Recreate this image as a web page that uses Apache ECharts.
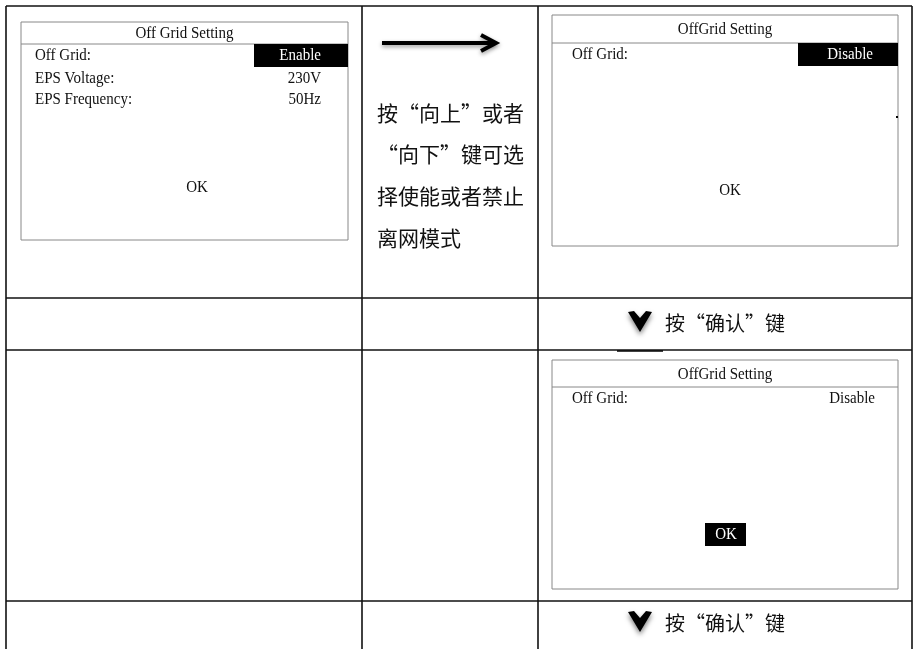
<!DOCTYPE html>
<html><head><meta charset="utf-8">
<script src="https://cdn.jsdelivr.net/npm/echarts@6/dist/echarts.min.js"></script>
<style>html,body{margin:0;padding:0;background:#fff}#c{width:914px;height:649px}</style>
</head><body><div id="c"></div>
<script>
// ---- content ----
const screen1Title = 'Off Grid Setting';
const screen1Labels = ['Off Grid:', 'EPS Voltage:', 'EPS Frequency:'];
const screen1Values = ['Enable', '230V', '50Hz'];
const screen2Title = 'OffGrid Setting';
const screen2Labels = ['Off Grid:'];
const screen2Values = ['Disable'];
const screen3Title = 'OffGrid Setting';
const screen3Labels = ['Off Grid:'];
const screen3Values = ['Disable'];
const okLabel = 'OK';
const instructionLines = ['按“向上”或者', '“向下”键可选', '择使能或者禁止', '离网模式'];
const confirmText = '按“确认”键';

// ---- layout ----
const colX = [6, 362, 538, 912];
const rowY = [6, 298, 350, 601];
const H = 649;
const SERIF = '"Liberation Serif", serif';
const CJK = '"Noto Sans CJK SC", sans-serif';
const instrY = [113, 154, 196, 238];

const g = [];
function line(x1, y1, x2, y2, c, w) {
  g.push({type: 'line', shape: {x1, y1, x2, y2}, style: {stroke: c, lineWidth: w}});
}
function rect(x, y, w, h, fill, stroke) {
  g.push({type: 'rect', shape: {x, y, width: w, height: h}, style: {fill: fill || 'none', stroke: stroke || null, lineWidth: 1}});
}
function text(x, y, t, opt, sy) {
  g.push({type: 'text', x, y, scaleY: sy || 1, style: Object.assign({text: t, fill: '#111', font: '15px ' + SERIF, textVerticalAlign: 'middle', textAlign: 'left'}, opt || {})});
}

// table grid
colX.forEach(x => line(x, rowY[0], x, H, '#111', 1.6));
rowY.forEach(y => line(colX[0], y, colX[3], y, '#111', 1.6));

// screen drawing
function screen(box, title, labels, values, opts) {
  const [x0, y0, x1, y1, div] = box;
  rect(x0, y0, x1 - x0, y1 - y0, '#fff', '#888');
  line(x0, div, x1, div, '#888', 1);
  text((x0 + x1) / 2, (y0 + div) / 2 + 1, title, {textAlign: 'center'}, 1.1);
  labels.forEach((l, i) => {
    const y = opts.rowYs[i];
    text(opts.labelX, y, l, null, 1.1);
    if (opts.hl === i) {
      rect(opts.hlBox[0], opts.hlBox[1], opts.hlBox[2], opts.hlBox[3], '#000');
      text(opts.valueRight, y, values[i], {textAlign: 'right', fill: '#fff'}, 1.1);
    } else {
      text(opts.valueRight, y, values[i], {textAlign: 'right'}, 1.1);
    }
  });
  if (opts.okBox) {
    rect(opts.okBox[0], opts.okBox[1], opts.okBox[2], opts.okBox[3], '#000');
    text(opts.okX, opts.okY, okLabel, {textAlign: 'center', fill: '#fff'}, 1.1);
  } else {
    text(opts.okX, opts.okY, okLabel, {textAlign: 'center'}, 1.1);
  }
}

screen([21, 22, 348, 240, 44], screen1Title, screen1Labels, screen1Values,
  {rowYs: [56, 79, 100], labelX: 35, valueRight: 321, hl: 0, hlBox: [254, 44, 94, 23], okX: 197, okY: 188});
screen([552, 15, 898, 246, 43], screen2Title, screen2Labels, screen2Values,
  {rowYs: [55], labelX: 572, valueRight: 873, hl: 0, hlBox: [798, 43, 100, 23], okX: 730, okY: 191});
screen([552, 360, 898, 589, 387], screen3Title, screen3Labels, screen3Values,
  {rowYs: [399], labelX: 572, valueRight: 875, okBox: [705, 523, 41, 23], okX: 726, okY: 535});
// small dot
rect(896, 116, 2, 2, '#000');

// instruction text
instructionLines.forEach((t, i) => {
  text(377, instrY[i], t, {font: '21px ' + CJK, fill: '#111'});
});

// horizontal arrow
g.push({type: 'polyline', shape: {points: [[382, 43], [494, 43]]}, style: {stroke: '#000', lineWidth: 4, shadowBlur: 4, shadowColor: 'rgba(0,0,0,0.4)', shadowOffsetY: 2}});
g.push({type: 'polyline', shape: {points: [[481, 35], [496, 43], [481, 51]]}, style: {stroke: '#000', lineWidth: 4, fill: 'none', lineJoin: 'miter', shadowBlur: 4, shadowColor: 'rgba(0,0,0,0.4)', shadowOffsetY: 2}});

// confirm rows
function chevron(cx, cy) {
  g.push({type: 'polygon', shape: {points: [[cx - 12, cy - 10], [cx - 6, cy - 11], [cx, cy - 4], [cx + 6, cy - 11], [cx + 12, cy - 10], [cx, cy + 10]]},
    style: {fill: '#000', shadowBlur: 5, shadowColor: 'rgba(0,0,0,0.5)', shadowOffsetY: 3}});
}
chevron(640, 322);
text(665, 323, confirmText, {font: '20px ' + CJK});
line(617, 351, 663, 351, '#000', 1.6);
chevron(640, 622);
text(665, 623, confirmText, {font: '20px ' + CJK});

const chart = echarts.init(document.getElementById('c'), null, {renderer: 'canvas'});
chart.setOption({backgroundColor: '#fff', animation: false, graphic: {elements: g}});
</script></body></html>
